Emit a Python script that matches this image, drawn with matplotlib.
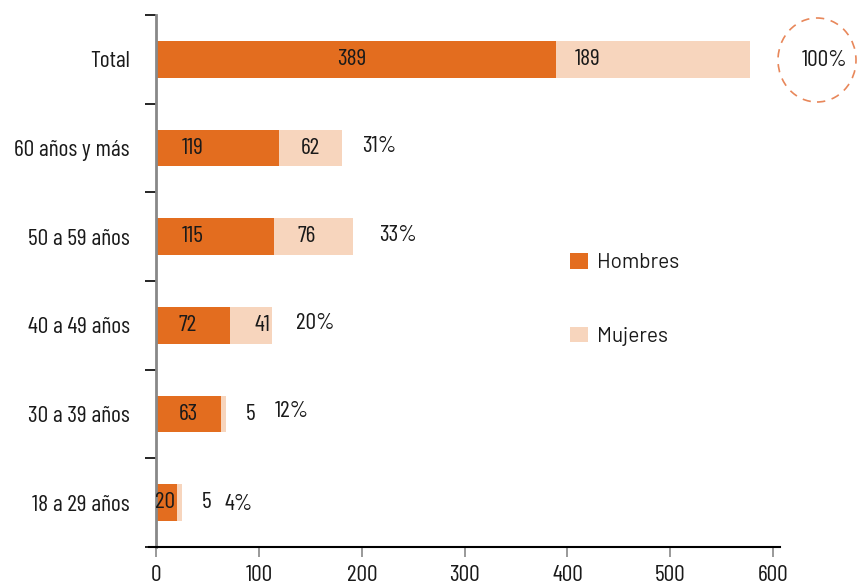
import matplotlib.pyplot as plt
from matplotlib.patches import Ellipse

# Personas por grupo de edad y sexo
grupos = ['Total', '60 años y más', '50 a 59 años', '40 a 49 años', '30 a 39 años', '18 a 29 años']
hombres = [389, 119, 115, 72, 63, 20]
mujeres = [189, 62, 76, 41, 5, 5]
porcentajes = ['100%', '31%', '33%', '20%', '12%', '4%']

NARANJA = '#E36D1F'
CLARO = '#F7D5BD'
TEXTO = '#1a1a1a'
CONDENSADA = ['Barlow Condensed', 'DejaVu Sans']
TAM = 17

# posición relativa de cada etiqueta dentro de la barra de hombres
pos_h = [0.49, 0.30, 0.31, 0.43, 0.50, 0.45]
# desplazamiento (pt) de la etiqueta de porcentaje desde el final de la barra
desp_pct = [None, 14, 19, 17, 35, 31]
desp_pct_y = [0, 1, 1, 1, 2, -1]

fig = plt.figure(figsize=(8.58, 5.87), dpi=100)
ax = fig.add_axes([149 / 858, 40 / 587, 631 / 858, 532 / 587])

y = list(range(len(grupos)))
ax.barh(y, hombres, height=0.41, color=NARANJA, label='Hombres')
ax.barh(y, mujeres, left=hombres, height=0.41, color=CLARO, label='Mujeres')

estilo = dict(fontsize=TAM, family=CONDENSADA, color=TEXTO, va='center')
for i in y:
    h, m = hombres[i], mujeres[i]
    ax.text(h * pos_h[i], i, str(h), ha='center', **estilo)
    if m > 20:
        ax.text(h + 31, i, str(m), ha='center', **estilo)
    else:
        ax.annotate(str(m), (h + m, i), xytext=(14, 0), textcoords='offset points',
                    ha='left', **estilo)
    if desp_pct[i] is not None:
        ax.annotate(porcentajes[i], (h + m, i), xytext=(desp_pct[i], desp_pct_y[i]),
                    textcoords='offset points', ha='left', **estilo)

# círculo punteado con el total
fig.patches.append(Ellipse((817 / 858, 1 - 60 / 587), 78 / 858, 84 / 587,
                           transform=fig.transFigure, fill=False,
                           edgecolor='#E8875A', linestyle=(0, (5, 4)), linewidth=1.2))
fig.text(824 / 858, 1 - 61 / 587, porcentajes[0], ha='center', **estilo)

ax.set_xlim(-7, 606.7)
ax.set_ylim(len(grupos) - 0.5, -0.5)

ax.set_yticks(y)
ax.set_yticklabels(grupos)
ax.set_yticks([i - 0.5 for i in range(len(grupos) + 1)], minor=True)
ax.tick_params(axis='y', which='major', length=0, pad=19, labelsize=TAM,
               labelfontfamily=CONDENSADA, labelcolor=TEXTO)
ax.tick_params(axis='y', which='minor', length=8, width=1.2, color='black')

ax.set_xticks([0, 100, 200, 300, 400, 500, 600])
ax.tick_params(axis='x', length=7, width=1.2, color='#888888', pad=6, labelsize=TAM,
               labelfontfamily=CONDENSADA, labelcolor=TEXTO)

ax.spines['top'].set_visible(False)
ax.spines['right'].set_visible(False)
ax.spines['left'].set_position(('data', 0))
ax.spines['left'].set_color('#888888')
ax.spines['left'].set_linewidth(2)
ax.spines['bottom'].set_linewidth(1.5)

ax.legend(loc='upper left', bbox_to_anchor=((562 - 149) / 631, 1 - (245 - 15) / 532),
          frameon=False, prop={'family': 'Barlow', 'size': 15}, labelspacing=2.6,
          handlelength=0.85, handleheight=0.75, handletextpad=0.45, borderaxespad=0,
          labelcolor=TEXTO)

fig.savefig('out.png', dpi=100)
